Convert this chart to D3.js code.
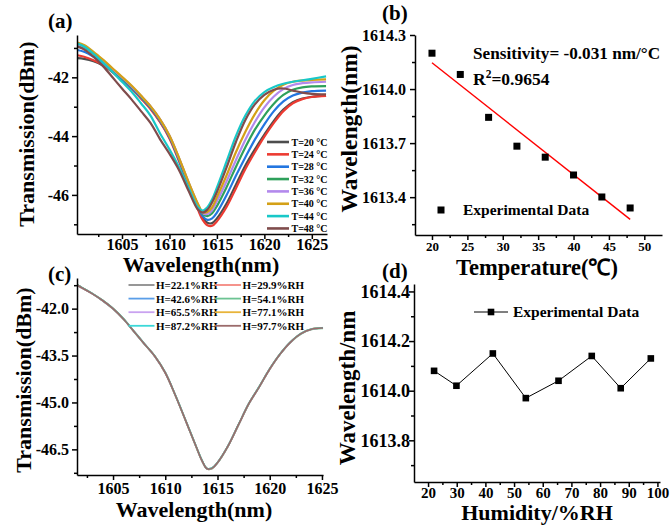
<!DOCTYPE html>
<html>
<head>
<meta charset="utf-8">
<script src="https://cdn.jsdelivr.net/npm/d3@7"></script>
<style>
  body { margin: 0; background: #fff; }
  svg { display: block; }
  text { font-family: "Liberation Serif", "Times New Roman", serif; font-weight: bold; fill: #000; }
</style>
</head>
<body>
<svg id="fig" width="670" height="525"></svg>
<script>
// ---------- (a) transmission spectra vs temperature ----------
const wlA = [1600.3, 1601, 1602, 1603, 1604, 1605, 1606, 1607, 1608, 1609, 1610, 1611, 1612, 1613, 1613.5,
             1614, 1614.5, 1615, 1616, 1617, 1618, 1619, 1620, 1621, 1622, 1623, 1624, 1625, 1626.5];
const tempLabels = ["T=20 \u00B0C", "T=24 \u00B0C", "T=28 \u00B0C", "T=32 \u00B0C", "T=36 \u00B0C", "T=40 \u00B0C", "T=44 \u00B0C", "T=48 \u00B0C"];
const tempColors = ["#4d4d4d", "#ec3b32", "#2376e0", "#2ea05b", "#b389ec", "#d4a017", "#18c8c8", "#7f4c4c"];
const T20 = [-41.35, -41.37, -41.45, -41.6, -41.82, -42.08, -42.36, -42.7, -43.05, -43.5, -44.05, -44.8, -45.65, -46.45, -46.78,
             -46.95, -46.96, -46.8, -46.3, -45.65, -45.0, -44.45, -43.95, -43.48, -43.1, -42.85, -42.72, -42.66, -42.62];
const T24 = [-41.25, -41.3, -41.42, -41.58, -41.82, -42.1, -42.38, -42.72, -43.08, -43.52, -44.08, -44.85, -45.7, -46.5, -46.85,
             -47.03, -47.05, -46.9, -46.42, -45.78, -45.12, -44.55, -44.02, -43.55, -43.15, -42.88, -42.74, -42.67, -42.63];
const T28 = [-41.07, -41.13, -41.3, -41.52, -41.78, -42.06, -42.35, -42.68, -43.03, -43.47, -44.03, -44.8, -45.62, -46.4, -46.72,
             -46.85, -46.8, -46.6, -46.02, -45.35, -44.72, -44.12, -43.6, -43.15, -42.82, -42.62, -42.52, -42.47, -42.45];
const T32 = [-40.9, -40.98, -41.2, -41.46, -41.74, -42.03, -42.32, -42.65, -43.0, -43.44, -44.0, -44.76, -45.58, -46.35, -46.65,
             -46.72, -46.62, -46.38, -45.75, -45.05, -44.38, -43.78, -43.3, -42.9, -42.6, -42.42, -42.34, -42.31, -42.3];
const T36 = [-40.88, -40.95, -41.17, -41.43, -41.71, -42.0, -42.3, -42.63, -42.98, -43.42, -43.98, -44.74, -45.56, -46.32, -46.62,
             -46.65, -46.52, -46.22, -45.55, -44.82, -44.12, -43.52, -43.02, -42.65, -42.4, -42.26, -42.2, -42.17, -42.15];
const T40 = [-40.82, -40.9, -41.13, -41.4, -41.69, -41.98, -42.28, -42.62, -42.98, -43.42, -43.98, -44.73, -45.55, -46.3, -46.58,
             -46.58, -46.42, -46.08, -45.35, -44.55, -43.85, -43.25, -42.78, -42.45, -42.25, -42.15, -42.11, -42.09, -42.07];
const T44 = [-40.85, -40.95, -41.2, -41.5, -41.82, -42.15, -42.48, -42.88, -43.3, -43.9, -44.45, -45.05, -45.75, -46.42, -46.53,
             -46.42, -46.15, -45.75, -44.88, -44.0, -43.3, -42.8, -42.5, -42.33, -42.22, -42.15, -42.1, -42.05, -41.97];
const T48 = [-40.95, -41.05, -41.3, -41.62, -42.0, -42.38, -42.75, -43.15, -43.55, -44.1, -44.6, -45.15, -45.85, -46.5, -46.6,
             -46.5, -46.25, -45.9, -45.08, -44.2, -43.45, -42.92, -42.6, -42.42, -42.38, -42.45, -42.52, -42.56, -42.58];
const tempSpectra = [T20, T24, T28, T32, T36, T40, T44, T48];

// ---------- (b) dip wavelength vs temperature ----------
const tempC = [20, 24, 28, 32, 36, 40, 44, 48];
const dipT = [1614.199, 1614.081, 1613.843, 1613.683, 1613.622, 1613.523, 1613.401, 1613.34];

// ---------- (c) transmission spectra vs humidity ----------
const wlC = [1601.6, 1602, 1603, 1604, 1605, 1606, 1607, 1608, 1609, 1610, 1611, 1612, 1613, 1613.5,
             1614, 1614.5, 1615, 1616, 1617, 1618, 1619, 1620, 1621, 1622, 1623, 1624, 1625, 1625.1];
const humLabels = ["H=22.1%RH", "H=29.9%RH", "H=42.6%RH", "H=54.1%RH", "H=65.5%RH", "H=77.1%RH", "H=87.2%RH", "H=97.7%RH"];
const humColors = ["#8c8c8c", "#f4877f", "#5a9ee8", "#6cc392", "#c9a2f0", "#e8b43a", "#3cd8d8", "#9b6b6b"];
const H22 = [-41.25, -41.33, -41.52, -41.74, -42.0, -42.33, -42.73, -43.13, -43.52, -44.05, -44.8, -45.62, -46.45, -46.85,
             -47.12, -47.1, -46.93, -46.4, -45.72, -45.04, -44.5, -43.93, -43.45, -43.07, -42.8, -42.66, -42.62, -42.62];
const H30 = [-41.25, -41.33, -41.52, -41.74, -42.01, -42.34, -42.73, -43.13, -43.53, -44.06, -44.8, -45.63, -46.46, -46.86,
             -47.13, -47.11, -46.93, -46.41, -45.73, -45.05, -44.5, -43.94, -43.45, -43.07, -42.8, -42.66, -42.62, -42.62];
const H43 = [-41.24, -41.32, -41.51, -41.74, -42.0, -42.33, -42.72, -43.12, -43.52, -44.04, -44.79, -45.61, -46.44, -46.84,
             -47.11, -47.09, -46.92, -46.39, -45.71, -45.03, -44.49, -43.92, -43.44, -43.06, -42.79, -42.65, -42.61, -42.61];
const H54 = [-41.25, -41.33, -41.52, -41.75, -42.01, -42.34, -42.74, -43.14, -43.53, -44.06, -44.81, -45.63, -46.46, -46.86,
             -47.13, -47.11, -46.94, -46.41, -45.73, -45.05, -44.51, -43.94, -43.46, -43.08, -42.81, -42.67, -42.63, -42.63];
const H66 = [-41.25, -41.33, -41.52, -41.74, -42.0, -42.33, -42.73, -43.13, -43.52, -44.05, -44.8, -45.62, -46.45, -46.85,
             -47.12, -47.1, -46.93, -46.4, -45.72, -45.04, -44.5, -43.93, -43.45, -43.07, -42.8, -42.66, -42.62, -42.62];
const H77 = [-41.24, -41.32, -41.51, -41.73, -41.99, -42.32, -42.72, -43.12, -43.51, -44.04, -44.79, -45.61, -46.44, -46.84,
             -47.11, -47.09, -46.92, -46.39, -45.71, -45.03, -44.49, -43.92, -43.44, -43.06, -42.79, -42.65, -42.61, -42.61];
const H87 = [-41.24, -41.32, -41.51, -41.73, -41.99, -42.32, -42.72, -43.12, -43.51, -44.04, -44.79, -45.61, -46.44, -46.84,
             -47.11, -47.09, -46.92, -46.39, -45.71, -45.03, -44.49, -43.92, -43.44, -43.06, -42.79, -42.65, -42.61, -42.6];
const H98 = [-41.25, -41.33, -41.52, -41.74, -42.0, -42.33, -42.73, -43.13, -43.52, -44.05, -44.8, -45.62, -46.45, -46.85,
             -47.12, -47.1, -46.93, -46.4, -45.72, -45.04, -44.5, -43.93, -43.45, -43.07, -42.8, -42.66, -42.62, -42.62];
const humSpectra = [H22, H30, H43, H54, H66, H77, H87, H98];

// ---------- (d) dip wavelength vs humidity ----------
const humRH = [22.1, 29.9, 42.6, 54.1, 65.5, 77.1, 87.2, 97.7];
const dipH = [1614.08, 1614.02, 1614.15, 1613.97, 1614.04, 1614.14, 1614.01, 1614.13];

// tick values
const wlMajor = [1605, 1610, 1615, 1620, 1625];
const wlMinor = [1602.5, 1607.5, 1612.5, 1617.5, 1622.5];
const aYMajor = [-42, -44, -46];
const aYMinor = [-41, -43, -45, -47];
const bXMajor = [20, 25, 30, 35, 40, 45, 50];
const bXMinor = [22.5, 27.5, 32.5, 37.5, 42.5, 47.5];
const bYMajor = [1613.4, 1613.7, 1614.0, 1614.3];
const bYMinor = [1613.25, 1613.55, 1613.85, 1614.15];
const cYMajor = [-42.0, -43.5, -45.0, -46.5];
const cYMinor = [-41.25, -42.75, -44.25, -45.75, -47.25];
const dXMajor = [20, 30, 40, 50, 60, 70, 80, 90, 100];
const dXMinor = [25, 35, 45, 55, 65, 75, 85, 95];
const dYMajor = [1613.8, 1614.0, 1614.2, 1614.4];
const dYMinor = [1613.7, 1613.9, 1614.1, 1614.3];

const FONT = '"Liberation Serif", "Times New Roman", serif';
const svg = d3.select("#fig");

function axes(x, y, o) {
  const g = svg.append("g");
  const y0 = y.range()[0], x0 = x.range()[0];
  const xb = g.append("g").attr("transform", `translate(0,${y0})`)
    .call(d3.axisBottom(x).tickValues(o.xMajor).tickSize(5).tickSizeOuter(0)
      .tickPadding(o.xPad).tickFormat(o.xFmt));
  xb.selectAll("text").style("font-size", o.xFont + "px");
  g.append("g").attr("transform", `translate(0,${y0})`)
    .call(d3.axisBottom(x).tickValues(o.xMinor).tickSize(3).tickFormat(""))
    .select(".domain").remove();
  const yl = g.append("g").attr("transform", `translate(${x0},0)`)
    .call(d3.axisLeft(y).tickValues(o.yMajor).tickSize(5).tickSizeOuter(0)
      .tickPadding(o.yPad).tickFormat(o.yFmt));
  yl.selectAll("text").style("font-size", o.yFont + "px");
  g.append("g").attr("transform", `translate(${x0},0)`)
    .call(d3.axisLeft(y).tickValues(o.yMinor).tickSize(3).tickFormat(""))
    .select(".domain").remove();
  g.selectAll(".domain, .tick line").attr("stroke", "#000").attr("stroke-width", 1.5);
  g.selectAll("text").style("font-family", FONT).style("font-weight", "bold");
  return g;
}

function label(txt, x, y, size, rot) {
  const t = svg.append("text").text(txt).style("font-size", size + "px")
    .attr("text-anchor", "middle");
  if (rot) t.attr("transform", `translate(${x},${y}) rotate(-90)`).attr("dy", "0.35em");
  else t.attr("x", x).attr("y", y);
  return t;
}

// ===== panel (a) =====
{
  const x = d3.scaleLinear().domain([1600.26, 1626.6]).range([77, 327]);
  const y = d3.scaleLinear().domain([-47.33, -40.56]).range([234, 35]);
  const line = d3.line().x((d, i) => x(wlA[i])).y(d => y(d)).curve(d3.curveCatmullRom.alpha(0.5));
  svg.append("g").selectAll("path").data(tempSpectra).join("path")
    .attr("d", line).attr("fill", "none")
    .attr("stroke", (d, i) => tempColors[i]).attr("stroke-width", 2.2);
  axes(x, y, { xMajor: wlMajor, xMinor: wlMinor, xPad: 0, xFont: 16, xFmt: d => String(d),
               yMajor: aYMajor, yMinor: aYMinor, yPad: 3, yFont: 16, yFmt: d => String(d) });
  const lg = svg.append("g");
  tempLabels.forEach((t, i) => {
    const yy = 142 + i * 12.35;
    lg.append("line").attr("x1", 267).attr("x2", 289).attr("y1", yy).attr("y2", yy)
      .attr("stroke", tempColors[i]).attr("stroke-width", 2.6);
    lg.append("text").attr("x", 291.5).attr("y", yy + 3.5).text(t).style("font-size", "10px");
  });
  label("Transmission(dBm)", 26, 134, 22, true);
  label("Wavelength(nm)", 201, 272, 22, false);
  svg.append("text").attr("x", 48).attr("y", 28).text("(a)").style("font-size", "21px");
}

// ===== panel (b) =====
{
  const x = d3.scaleLinear().domain([17.6, 52.5]).range([415, 662]);
  const y = d3.scaleLinear().domain([1613.19, 1614.3]).range([235, 35]);
  // least-squares fit of dip wavelength against temperature
  const mx = d3.mean(tempC), my = d3.mean(dipT);
  const slope = d3.sum(tempC, (t, i) => (t - mx) * (dipT[i] - my)) / d3.sum(tempC, t => (t - mx) ** 2);
  const icpt = my - slope * mx;
  const ends = [tempC[0], tempC[tempC.length - 1]];
  svg.append("line").attr("x1", x(ends[0])).attr("y1", y(icpt + slope * ends[0]))
    .attr("x2", x(ends[1])).attr("y2", y(icpt + slope * ends[1]))
    .attr("stroke", "#ff0000").attr("stroke-width", 1.4);
  svg.append("g").selectAll("rect").data(dipT).join("rect")
    .attr("x", (d, i) => x(tempC[i]) - 3.5).attr("y", d => y(d) - 3.5)
    .attr("width", 7).attr("height", 7).attr("fill", "#000");
  axes(x, y, { xMajor: bXMajor, xMinor: bXMinor, xPad: 2, xFont: 13, xFmt: d => String(d),
               yMajor: bYMajor, yMinor: bYMinor, yPad: 4, yFont: 16, yFmt: d => d.toFixed(1) });
  svg.append("text").attr("x", 473).attr("y", 59).text("Sensitivity= -0.031 nm/\u00B0C").style("font-size", "17.2px");
  const r2 = svg.append("text").attr("x", 473).attr("y", 85).style("font-size", "17.5px");
  r2.append("tspan").text("R");
  r2.append("tspan").text("2").attr("dy", -7).style("font-size", "11.5px");
  r2.append("tspan").text("=0.9654").attr("dy", 7);
  svg.append("rect").attr("x", 437.5).attr("y", 206.5).attr("width", 7).attr("height", 7).attr("fill", "#000");
  svg.append("text").attr("x", 463).attr("y", 215).text("Experimental Data").style("font-size", "15.5px");
  label("Wavelength(nm)", 349, 129, 23.5, true);
  label("Temperature(\u2103)", 537, 275, 22.5, false);
  svg.append("text").attr("x", 382).attr("y", 20).text("(b)").style("font-size", "21px");
}

// ===== panel (c) =====
{
  const x = d3.scaleLinear().domain([1601.55, 1625.1]).range([77, 323]);
  const y = d3.scaleLinear().domain([-47.32, -41.02]).range([475, 278]);
  const line = d3.line().x((d, i) => x(wlC[i])).y(d => y(d)).curve(d3.curveCatmullRom.alpha(0.5));
  svg.append("g").selectAll("path").data(humSpectra).join("path")
    .attr("d", line).attr("fill", "none")
    .attr("stroke", (d, i) => humColors[i]).attr("stroke-width", 1.6);
  axes(x, y, { xMajor: wlMajor, xMinor: wlMinor, xPad: 3, xFont: 16, xFmt: d => String(d),
               yMajor: cYMajor, yMinor: cYMinor, yPad: 3, yFont: 16, yFmt: d => d.toFixed(1) });
  const lg = svg.append("g");
  humLabels.forEach((t, i) => {
    const col = i % 2, row = Math.floor(i / 2);
    const yy = 285 + row * 13.6;
    const lx = col ? 215 : 128.5;
    lg.append("line").attr("x1", lx).attr("x2", lx + 26).attr("y1", yy).attr("y2", yy)
      .attr("stroke", humColors[i]).attr("stroke-width", 1.8);
    lg.append("text").attr("x", lx + 27.5).attr("y", yy + 4).text(t).style("font-size", "11px");
  });
  label("Transmission(dBm)", 23, 380, 22, true);
  label("Wavelength(nm)", 194, 517, 22, false);
  svg.append("text").attr("x", 48).attr("y", 281).text("(c)").style("font-size", "21px");
}

// ===== panel (d) =====
{
  const x = d3.scaleLinear().domain([15.1, 100.9]).range([414, 660]);
  const y = d3.scaleLinear().domain([1613.632, 1614.43]).range([482, 284]);
  const line = d3.line().x((d, i) => x(humRH[i])).y(d => y(d));
  svg.append("path").datum(dipH).attr("d", line).attr("fill", "none")
    .attr("stroke", "#000").attr("stroke-width", 1);
  svg.append("g").selectAll("rect").data(dipH).join("rect")
    .attr("x", (d, i) => x(humRH[i]) - 3.3).attr("y", d => y(d) - 3.3)
    .attr("width", 6.6).attr("height", 6.6).attr("fill", "#000");
  axes(x, y, { xMajor: dXMajor, xMinor: dXMinor, xPad: 0, xFont: 15, xFmt: d => String(d),
               yMajor: dYMajor, yMinor: dYMinor, yPad: -1, yFont: 18, yFmt: d => d.toFixed(1) });
  svg.append("line").attr("x1", 474).attr("x2", 508).attr("y1", 312).attr("y2", 312)
    .attr("stroke", "#000").attr("stroke-width", 1);
  svg.append("rect").attr("x", 487.7).attr("y", 308.7).attr("width", 6.6).attr("height", 6.6).attr("fill", "#000");
  svg.append("text").attr("x", 513).attr("y", 317).text("Experimental Data").style("font-size", "15.5px");
  label("Wavelength/nm", 347, 388, 23, true);
  label("Humidity/%RH", 537, 520, 22, false);
  svg.append("text").attr("x", 382).attr("y", 278).text("(d)").style("font-size", "21px");
}
</script>
</body>
</html>
